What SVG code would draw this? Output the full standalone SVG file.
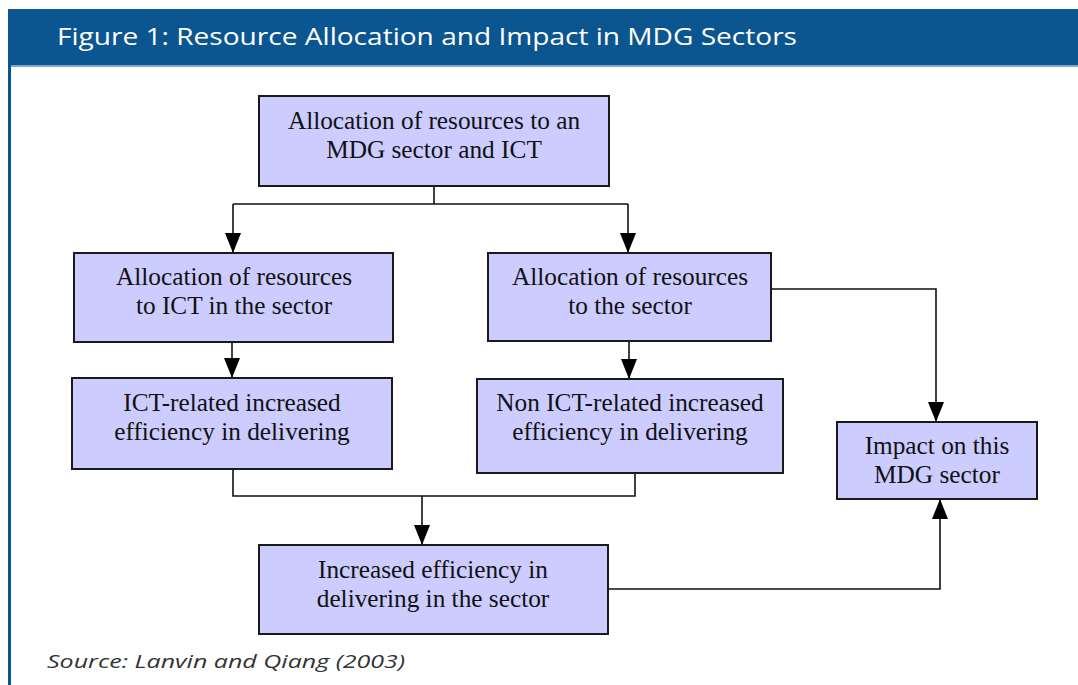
<svg xmlns="http://www.w3.org/2000/svg" width="1078" height="685" viewBox="0 0 1078 685">
  <style>
    .box { fill: #ccccff; stroke: #1a1a1a; stroke-width: 2; }
    .lbl { font-family: "Liberation Serif", "Times New Roman", serif; font-size: 25.3px; fill: #111; text-anchor: middle; }
    .wire { fill: none; stroke: #111; stroke-width: 1.6; }
    .title { font-family: "Open Sans", "DejaVu Sans", sans-serif; font-weight: 500; font-size: 24px; fill: #ffffff; }
    .src { font-family: "Open Sans", "DejaVu Sans", sans-serif; font-style: italic; font-size: 19px; fill: #333; }
  </style>
  <defs>
    <marker id="arrow" markerUnits="userSpaceOnUse" markerWidth="20" markerHeight="16" refX="20" refY="8" orient="auto" viewBox="0 0 20 16">
      <path d="M0,0 L20,8 L0,16 Z" fill="#000"/>
    </marker>
  </defs>

  <rect x="0" y="0" width="1078" height="685" fill="#ffffff"/>

  <!-- frame: title banner and left rule -->
  <rect x="8" y="9" width="1070" height="56" fill="#0b5590"/>
  <rect x="8" y="65" width="1070" height="2" fill="#7ea8cc"/>
  <rect x="8" y="65" width="3" height="620" fill="#0b5590"/>
  <text class="title" x="57" y="45" textLength="740" lengthAdjust="spacingAndGlyphs">Figure 1: Resource Allocation and Impact in MDG Sectors</text>

  <!-- connectors -->
  <g id="connectors">
    <path class="wire" d="M434,187 V204"/>
    <path class="wire" d="M233,204 H628"/>
    <path class="wire" d="M233,204 V253" marker-end="url(#arrow)"/>
    <path class="wire" d="M628,204 V253" marker-end="url(#arrow)"/>
    <path class="wire" d="M232,342 V378" marker-end="url(#arrow)"/>
    <path class="wire" d="M629,341 V379" marker-end="url(#arrow)"/>
    <path class="wire" d="M771,289 H936 V422" marker-end="url(#arrow)"/>
    <path class="wire" d="M233,469 V496 H635 V473"/>
    <path class="wire" d="M422,496 V545" marker-end="url(#arrow)"/>
    <path class="wire" d="M608,589 H940 V499" marker-end="url(#arrow)"/>
  </g>

  <g id="node-allocation">
    <rect class="box" x="259" y="96" width="350" height="90"/>
    <text class="lbl" x="434" y="129">Allocation of resources to an</text>
    <text class="lbl" x="434" y="158">MDG sector and ICT</text>
  </g>

  <g id="node-ict-alloc">
    <rect class="box" x="74" y="253" width="319" height="89"/>
    <text class="lbl" x="234" y="285">Allocation of resources</text>
    <text class="lbl" x="234" y="314">to ICT in the sector</text>
  </g>

  <g id="node-sector-alloc">
    <rect class="box" x="488" y="253" width="283" height="88"/>
    <text class="lbl" x="630" y="285">Allocation of resources</text>
    <text class="lbl" x="630" y="314">to the sector</text>
  </g>

  <g id="node-ict-eff">
    <rect class="box" x="72" y="378" width="320" height="91"/>
    <text class="lbl" x="232" y="411">ICT-related increased</text>
    <text class="lbl" x="232" y="440">efficiency in delivering</text>
  </g>

  <g id="node-nonict-eff">
    <rect class="box" x="477" y="379" width="306" height="94"/>
    <text class="lbl" x="630" y="411">Non ICT-related increased</text>
    <text class="lbl" x="630" y="440">efficiency in delivering</text>
  </g>

  <g id="node-impact">
    <rect class="box" x="837" y="422" width="200" height="77"/>
    <text class="lbl" x="937" y="454">Impact on this</text>
    <text class="lbl" x="937" y="483">MDG sector</text>
  </g>

  <g id="node-sector-eff">
    <rect class="box" x="259" y="545" width="349" height="89"/>
    <text class="lbl" x="433" y="578">Increased efficiency in</text>
    <text class="lbl" x="433" y="607">delivering in the sector</text>
  </g>

  <text class="src" x="47" y="668" textLength="358" lengthAdjust="spacingAndGlyphs">Source: Lanvin and Qiang (2003)</text>
</svg>
